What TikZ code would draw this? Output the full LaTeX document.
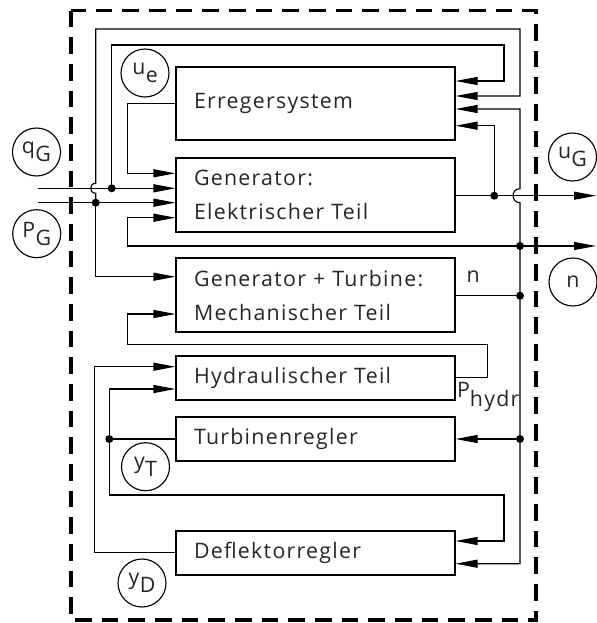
\documentclass[tikz,border=0pt]{standalone}
\usepackage{fontspec}
\setmainfont[LetterSpace=6]{Open Sans}
\usetikzlibrary{arrows.meta}
\newcommand\sbs[1]{\kern0.3pt\lower6pt\hbox{#1}}
\begin{document}
\begin{tikzpicture}[x=0.75pt,y=-0.75pt, line width=0.85pt,
  >={Triangle[length=16.5pt,width=6pt]},
  blk/.style={draw, minimum width=209.25pt, inner xsep=13.5pt, text width=182.25pt, align=left,
    font=\fontsize{16}{25.5}\selectfont, text=black!85},
  sig/.style={draw, circle, minimum size=36pt, inner sep=0pt, font=\fontsize{16}{16}\selectfont, text=black!85},
  lab/.style={font=\fontsize{16}{16}\selectfont, text=black!85, inner sep=0pt},
  dot/.style={circle, fill, inner sep=0pt, minimum size=6pt},
  frame/.style={line width=2.7pt, dash pattern=on 12.5pt off 7.5pt}]
\useasboundingbox (0,0) rectangle (596,623);
\draw[frame] (71,10.7) rectangle (535.7,620);

% blocks
\node[blk, minimum height=54.75pt] (E) at (315.5,103.5) {Erregersystem};
\node[blk, minimum height=55.5pt] (G) at (315.5,195) {Generator:\\Elektrischer Teil};
\node[blk, minimum height=55.5pt] (M) at (315.5,295) {Generator + Turbine:\\Mechanischer Teil};
\node[blk, minimum height=33pt] (H) at (315.5,378) {Hydraulischer Teil};
\node[blk, minimum height=33pt] (T) at (315.5,439) {Turbinenregler};
\node[blk, minimum height=33pt] (D) at (315.5,553) {Deflektorregler};

% signal circles
\node[sig] (ue) at (145,73) {u\sbs{e}};
\node[sig] (qG) at (36.5,152) {q\sbs{G}};
\node[sig] (PG) at (36.7,233.7) {P\sbs{G}};
\node[sig] (uG) at (572.5,157) {u\sbs{G}};
\node[sig] (nC) at (573,282) {n};
\node[sig] (yT) at (145.5,466.7) {y\sbs{T}};
\node[sig] (yD) at (142,583) {y\sbs{D}};

\node[lab, anchor=base west] (nl) at (466,282) {n};
\node[lab, anchor=base west] (ph) at (456.5,397) {P\lower7pt\hbox{hydr}};

% junctions
\node[dot] (dq) at (111.7,188.3) {};
\node[dot] (dp) at (95.7,202.7) {};
\node[dot] (du) at (494.3,195.7) {};
\node[dot] (dn) at (520,246) {};
\node[dot] (dm) at (520,295.7) {};
\node[dot] (dt) at (520,439) {};
\node[dot] (dty) at (109.3,439) {};

% coordinates
\coordinate (qin) at (38,188.3);
\coordinate (pin) at (38,202.7);
\coordinate (a1) at (520,96);
\coordinate (a2) at (95.7,276.7);
\coordinate (b1) at (504,81);
\coordinate (c0) at (127.7,103.3);
\coordinate (c1) at (127.7,173.3);
\coordinate (uo) at (596,195.7);
\coordinate (d1) at (494.3,125.7);
\coordinate (v0) at (520,109);
\coordinate (v1) at (520,563.7);
\coordinate (n0) at (127.7,246);
\coordinate (n1) at (127.7,217.7);
\coordinate (no) at (596,246);
\coordinate (t1) at (109.3,389);
\coordinate (t2) at (504,541);
\coordinate (y0) at (94.3,552.3);
\coordinate (y1) at (94.3,366.7);
\coordinate (h0) at (487.7,377.7);
\coordinate (h1) at (127.7,314);

% inputs
\draw[->] (qin) -- (G.west |- qin);
\draw[->] (pin) -- (G.west |- pin);
% P_G to Erregersystem and mechanical part
\draw[->] (dp.center) -- (95.7,193.3) .. controls (89,193.3) and (89,183.3) .. (95.7,183.3)
  -- (95.7,29) -- (520,29) -- (a1) -- (E.east |- a1);
\draw[->] (dp.center) -- (a2) -- (M.west |- a2);
% q_G to Erregersystem
\draw[->] (dq.center) -- (111.7,45) -- (504,45) -- (b1) -- (E.east |- b1);
% Erregersystem to generator
\draw[->] (E.west |- c0) -- (c0) -- (c1) -- (G.west |- c1);
% u_G
\draw[->] (G.east |- du) -- (uo);
\draw[->] (du.center) -- (d1) -- (E.east |- d1);
% n bus
\draw[<->] (E.east |- v0) -- (v0) -- (520,188.7) .. controls (510.7,188.7) and (510.7,202.7) .. (520,202.7)
  -- (v1) -- (D.east |- v1);
\draw[->] (dn.center) -- (n0) -- (n1) -- (G.west |- n1);
\draw[->] (dn.center) -- (no);
\draw (M.east |- dm) -- (dm.center);
\draw[->] (dt.center) -- (T.east |- dt);
% Turbinenregler output
\draw (T.west |- dty) -- (dty.center);
\draw[->] (dty.center) -- (t1) -- (H.west |- t1);
\draw[->] (dty.center) -- (109.3,495) -- (504,495) -- (t2) -- (D.east |- t2);
% Deflektorregler output
\draw[->] (D.west |- y0) -- (y0) -- (y1) -- (H.west |- y1);
% hydraulic power
\draw[->] (H.east |- h0) -- (h0) -- (487.7,344.3) -- (127.7,344.3) -- (h1) -- (M.west |- h1);
\end{tikzpicture}
\end{document}
